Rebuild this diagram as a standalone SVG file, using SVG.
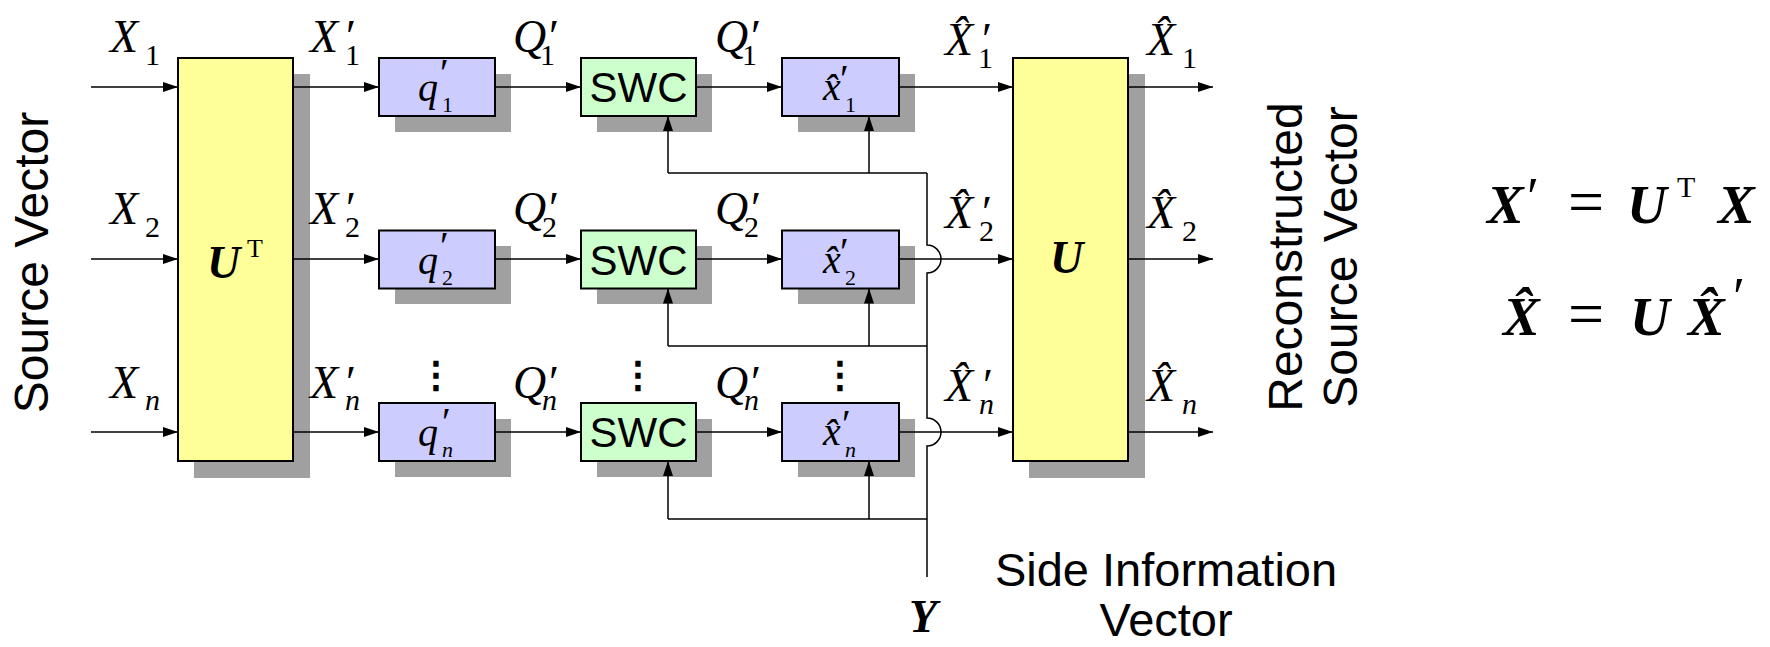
<svg xmlns="http://www.w3.org/2000/svg" width="1770" height="647" viewBox="0 0 1770 647">
<defs>
<marker id="ah" markerWidth="15" markerHeight="10" refX="15" refY="5" orient="auto" markerUnits="userSpaceOnUse"><path d="M0,0 L15,5 L0,10 z" fill="#000"/></marker>
<style>
.sh{fill:#a0a0a0}
.bx{stroke:#000;stroke-width:2}
.y{fill:#ffff99}.b{fill:#ccccff}.g{fill:#ccffcc}
.ln{fill:none;stroke:#000;stroke-width:1.5}
.ar{marker-end:url(#ah)}
.mi{font-family:"Liberation Serif","DejaVu Serif",serif;font-style:italic;font-size:46px}
.bi{font-family:"Liberation Serif","DejaVu Serif",serif;font-style:italic;font-weight:bold;font-size:46px}
.bq{font-family:"Liberation Serif","DejaVu Serif",serif;font-style:italic;font-weight:bold;font-size:55px}
.rm{font-family:"Liberation Serif","DejaVu Serif",serif;font-style:normal;font-weight:normal}
.s30{font-size:30px}.s22{font-size:22px}.s26{font-size:26px}
.ib{font-family:"Liberation Serif","DejaVu Serif",serif;font-style:italic;font-size:40px}
.sans{font-family:"Liberation Sans",Arial,sans-serif}
.dots{font-family:"DejaVu Sans",sans-serif;font-size:36px;text-anchor:middle;stroke:#000;stroke-width:1.6}
</style>
</defs>
<rect width="1770" height="647" fill="#fff"/>

<g id="shadows">
<rect class="sh" x="194" y="74" width="116" height="404"/>
<rect class="sh" x="1029" y="74" width="116" height="404"/>
<rect class="sh" x="395" y="74" width="116" height="58"/>
<rect class="sh" x="597" y="74" width="115" height="58"/>
<rect class="sh" x="798" y="74" width="117" height="58"/>
<rect class="sh" x="395" y="246" width="116" height="58"/>
<rect class="sh" x="597" y="246" width="115" height="58"/>
<rect class="sh" x="798" y="246" width="117" height="58"/>
<rect class="sh" x="395" y="419" width="116" height="58"/>
<rect class="sh" x="597" y="419" width="115" height="58"/>
<rect class="sh" x="798" y="419" width="117" height="58"/>
</g>

<g id="connectors">
<path class="ln ar" d="M91,87 H178"/>
<path class="ln ar" d="M293,87 H379"/>
<path class="ln ar" d="M495,87 H581"/>
<path class="ln ar" d="M696,87 H782"/>
<path class="ln ar" d="M899,87 H1013"/>
<path class="ln ar" d="M1128,87 H1213"/>
<path class="ln ar" d="M91,259 H178"/>
<path class="ln ar" d="M293,259 H379"/>
<path class="ln ar" d="M495,259 H581"/>
<path class="ln ar" d="M696,259 H782"/>
<path class="ln ar" d="M899,259 H1013"/>
<path class="ln ar" d="M1128,259 H1213"/>
<path class="ln ar" d="M91,432 H178"/>
<path class="ln ar" d="M293,432 H379"/>
<path class="ln ar" d="M495,432 H581"/>
<path class="ln ar" d="M696,432 H782"/>
<path class="ln ar" d="M899,432 H1013"/>
<path class="ln ar" d="M1128,432 H1213"/>
<path class="ln" d="M927,577 V446 A14,14 0 0 0 927,418 V273 A14,14 0 0 0 927,245 V173"/>
<path class="ln" d="M927,173 H668"/>
<path class="ln ar" d="M668,173 V116"/>
<path class="ln ar" d="M869,173 V116"/>
<path class="ln" d="M927,346 H668"/>
<path class="ln ar" d="M668,346 V288.5"/>
<path class="ln ar" d="M869,346 V288.5"/>
<path class="ln" d="M927,519 H668"/>
<path class="ln ar" d="M668,519 V461"/>
<path class="ln ar" d="M869,519 V461"/>
</g>

<g id="UT">
<rect class="bx y" x="178" y="58" width="115" height="403"/>
<text class="bi" x="207" y="278">U<tspan class="rm s26" x="247" y="257">T</tspan></text>
</g>
<g id="U">
<rect class="bx y" x="1013" y="58" width="115" height="403"/>
<text class="bi" x="1050" y="273">U</text>
</g>

<g id="q1"><rect class="bx b" x="379" y="58" width="116" height="58"/>
<text class="ib" x="418" y="101">q<tspan class="rm s22" x="442" y="112">1</tspan><tspan class="rm" x="440" y="86">′</tspan></text></g>
<g id="q2"><rect class="bx b" x="379" y="230.5" width="116" height="58"/>
<text class="ib" x="418" y="273.5">q<tspan class="rm s22" x="442" y="284.5">2</tspan><tspan class="rm" x="440" y="258.5">′</tspan></text></g>
<g id="qn"><rect class="bx b" x="379" y="403" width="116" height="58"/>
<text class="ib" x="418" y="446">q<tspan class="s22" x="442" y="457">n</tspan><tspan class="rm" x="442" y="435">′</tspan></text></g>

<g id="swc1"><rect class="bx g" x="581" y="58" width="115" height="58"/>
<text class="sans" x="638.5" y="102" font-size="42" text-anchor="middle">SWC</text></g>
<g id="swc2"><rect class="bx g" x="581" y="230.5" width="115" height="58"/>
<text class="sans" x="638.5" y="274.5" font-size="42" text-anchor="middle">SWC</text></g>
<g id="swcn"><rect class="bx g" x="581" y="403" width="115" height="58"/>
<text class="sans" x="638.5" y="447" font-size="42" text-anchor="middle">SWC</text></g>

<g id="xh1"><rect class="bx b" x="782" y="58" width="117" height="58"/>
<text class="ib" x="823" y="100">x̂<tspan class="rm s22" x="845" y="112">1</tspan><tspan class="rm" x="840" y="92">′</tspan></text></g>
<g id="xh2"><rect class="bx b" x="782" y="230.5" width="117" height="58"/>
<text class="ib" x="823" y="272.5">x̂<tspan class="rm s22" x="845" y="284.5">2</tspan><tspan class="rm" x="840" y="264.5">′</tspan></text></g>
<g id="xhn"><rect class="bx b" x="782" y="403" width="117" height="58"/>
<text class="ib" x="823" y="445">x̂<tspan class="s22" x="845" y="457">n</tspan><tspan class="rm" x="842" y="437">′</tspan></text></g>

<g id="labels">
<text class="mi" x="110" y="52">X<tspan class="rm s30" x="145" y="65">1</tspan></text>
<text class="mi" x="310" y="52">X<tspan class="rm" x="346" y="52">′</tspan><tspan class="rm s30" x="345" y="65">1</tspan></text>
<text class="mi" x="513" y="52">Q<tspan class="rm" x="549" y="52">′</tspan><tspan class="rm s30" x="540" y="65">1</tspan></text>
<text class="mi" x="715" y="52">Q<tspan class="rm" x="751" y="52">′</tspan><tspan class="rm s30" x="742" y="65">1</tspan></text>
<text class="mi" x="945" y="55">X̂<tspan class="rm" x="982" y="55">′</tspan><tspan class="rm s30" x="978" y="68">1</tspan></text>
<text class="mi" x="1147" y="55">X̂<tspan class="rm s30" x="1182" y="68">1</tspan></text>
<text class="mi" x="110" y="224">X<tspan class="rm s30" x="145" y="237">2</tspan></text>
<text class="mi" x="310" y="224">X<tspan class="rm" x="346" y="224">′</tspan><tspan class="rm s30" x="345" y="237">2</tspan></text>
<text class="mi" x="513" y="224">Q<tspan class="rm" x="549" y="224">′</tspan><tspan class="rm s30" x="542" y="237">2</tspan></text>
<text class="mi" x="715" y="224">Q<tspan class="rm" x="751" y="224">′</tspan><tspan class="rm s30" x="744" y="237">2</tspan></text>
<text class="mi" x="945" y="228">X̂<tspan class="rm" x="982" y="228">′</tspan><tspan class="rm s30" x="979" y="241">2</tspan></text>
<text class="mi" x="1147" y="228">X̂<tspan class="rm s30" x="1182" y="241">2</tspan></text>
<text class="mi" x="110" y="398">X<tspan class="s30" x="145" y="410">n</tspan></text>
<text class="mi" x="310" y="398">X<tspan class="rm" x="346" y="398">′</tspan><tspan class="s30" x="345" y="410">n</tspan></text>
<text class="mi" x="513" y="398">Q<tspan class="rm" x="549" y="398">′</tspan><tspan class="s30" x="542" y="410">n</tspan></text>
<text class="mi" x="715" y="398">Q<tspan class="rm" x="751" y="398">′</tspan><tspan class="s30" x="744" y="410">n</tspan></text>
<text class="mi" x="945" y="401">X̂<tspan class="rm" x="983" y="401">′</tspan><tspan class="s30" x="979" y="414">n</tspan></text>
<text class="mi" x="1147" y="401">X̂<tspan class="s30" x="1182" y="414">n</tspan></text>
<text class="dots" x="436" y="387">⋮</text>
<text class="dots" x="638" y="387">⋮</text>
<text class="dots" x="840" y="387">⋮</text>
<text class="bi" x="909" y="632">Y</text>
<text class="sans" font-size="48" text-anchor="middle" transform="translate(48,262.5) rotate(-90)">Source Vector</text>
<text class="sans" font-size="48" text-anchor="middle" transform="translate(1302,257) rotate(-90)">Reconstructed</text>
<text class="sans" font-size="48" text-anchor="middle" transform="translate(1357,257) rotate(-90)">Source Vector</text>
<text class="sans" font-size="47" text-anchor="middle" x="1166" y="586">Side Information</text>
<text class="sans" font-size="47" text-anchor="middle" x="1166" y="636">Vector</text>
</g>

<g id="equations">
<text class="bq" x="1487" y="223">X<tspan class="rm" x="1527" y="215">′</tspan><tspan class="rm" x="1568" y="223" font-size="64">=</tspan><tspan x="1627" y="223">U</tspan><tspan class="rm s30" x="1677" y="197">T</tspan><tspan x="1718" y="223">X</tspan></text>
<text class="bq" x="1503" y="335">X̂<tspan class="rm" x="1568" y="335" font-size="64">=</tspan><tspan x="1630" y="335">U</tspan><tspan x="1688" y="335">X̂</tspan><tspan class="rm" x="1733" y="315">′</tspan></text>
</g>
</svg>
